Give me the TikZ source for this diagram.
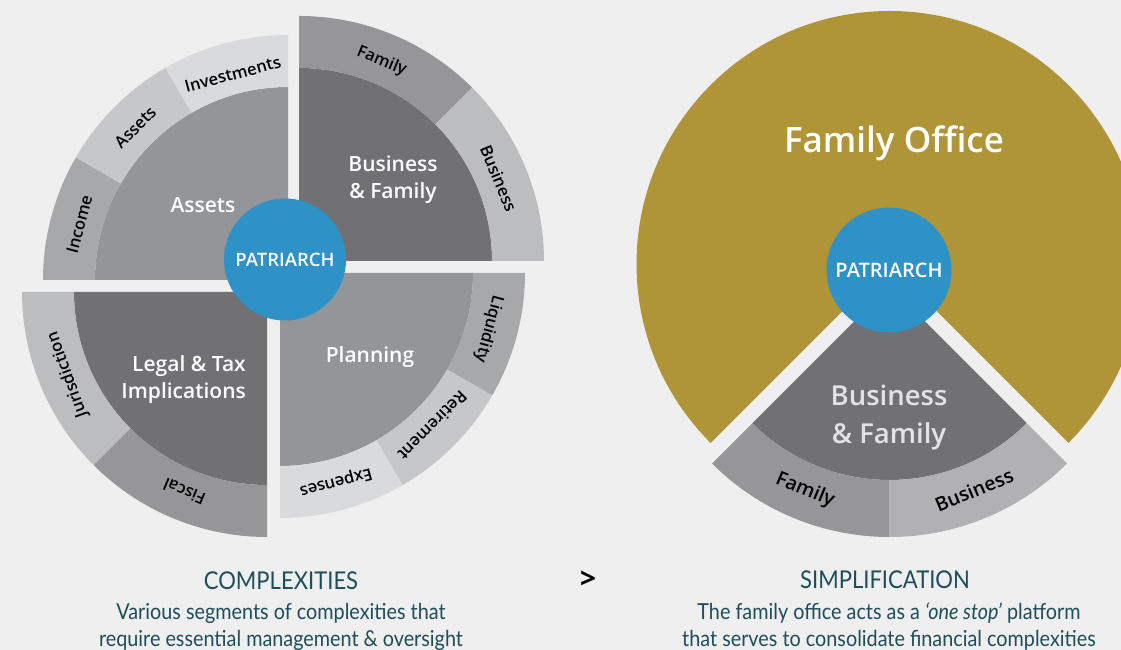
\documentclass[tikz,border=0pt]{standalone}
\usepackage{fontspec}
\usepackage{graphicx}
\usetikzlibrary{calc}
\setmainfont{Open Sans}
\IfFontExistsTF{Open Sans SemiBold}{\newfontfamily\sbfont{Open Sans SemiBold}}{%
  \IfFontExistsTF{Open Sans Semibold}{\newfontfamily\sbfont{Open Sans Semibold}}{\newcommand\sbfont{\bfseries}}}
\newfontfamily\capfont[FakeStretch=0.9]{Lato}
\definecolor{bgc}{HTML}{EFEFEF}
\definecolor{goldc}{HTML}{B09438}
\definecolor{bluec}{HTML}{2E92C7}
\definecolor{dkg}{HTML}{717073}
\definecolor{mdg}{HTML}{939598}
\definecolor{bandA}{HTML}{A7A8AA}
\definecolor{bandB}{HTML}{C6C7C9}
\definecolor{bandC}{HTML}{D9DADB}
\definecolor{bandD}{HTML}{969698}
\definecolor{bandE}{HTML}{BCBDBF}
\definecolor{bandF}{HTML}{B1B1B3}
\definecolor{tealc}{HTML}{1E4D5C}
\newcommand\ringseg[6]{%
  \fill[#6] ($(#1)+(#2:#4)$) arc[start angle=#2,end angle=#3,radius=#4]
     -- ($(#1)+(#3:#5)$) arc[start angle=#3,end angle=#2,radius=#5] -- cycle;}
\newcommand\piesec[5]{%
  \fill[#5] (#1) -- ($(#1)+(#2:#4)$) arc[start angle=#2,end angle=#3,radius=#4] -- cycle;}
\tikzset{
  inlbl/.style={text=white,font=\sbfont\fontsize{21}{27}\selectfont,align=center,inner sep=0pt},
  bandlbl/.style={text=black,font=\sbfont\fontsize{16.5}{20}\selectfont,inner sep=0pt},
  bandlblR/.style={text=black,font=\sbfont\fontsize{19.5}{23}\selectfont,inner sep=0pt},
  patri/.style={circle,fill=bluec,text=white,font=\sbfont\fontsize{18.5}{20}\selectfont,inner sep=0pt},
  captitle/.style={text=tealc,font=\capfont\fontsize{24.5}{26}\selectfont,inner sep=0pt},
  captext/.style={text=tealc,font=\capfont\fontsize{22}{24}\selectfont,inner sep=0pt}
}
\begin{document}
\begin{tikzpicture}[x=1pt,y=1pt]
\useasboundingbox (0,0) rectangle (1121,650);
\clip (0,0) rectangle (1121,650);
\fill[bgc] (0,0) rectangle (1121,650);
% ---------- left diagram ----------
\coordinate (TL) at (288,370);
\coordinate (TR) at (299,389);
\coordinate (BR) at (280,377);
\coordinate (BL) at (267,358);
% top-left: Assets
\piesec{TL}{90}{180}{193}{mdg}
\ringseg{TL}{150}{180}{193}{245}{bandA}
\ringseg{TL}{120}{150}{193}{245}{bandB}
\ringseg{TL}{90}{120}{193}{245}{bandC}
% top-right: Business & Family
\piesec{TR}{0}{90}{193}{dkg}
\ringseg{TR}{45}{90}{193}{245}{bandD}
\ringseg{TR}{0}{45}{193}{245}{bandE}
% bottom-right: Planning
\piesec{BR}{-90}{0}{193}{mdg}
\ringseg{BR}{-30}{0}{193}{245}{bandA}
\ringseg{BR}{-60}{-30}{193}{245}{bandB}
\ringseg{BR}{-90}{-60}{193}{245}{bandC}
% bottom-left: Legal & Tax
\piesec{BL}{180}{270}{193}{dkg}
\ringseg{BL}{180}{225}{193}{245}{bandE}
\ringseg{BL}{225}{270}{193}{245}{bandD}
% labels
\node[inlbl] (assets) at (203,445) {Assets};
\node[inlbl] (busfam) at (393,470) {Business\\\& Family};
\node[inlbl,align=right,anchor=east] (legal) at (246,270) {Legal \& Tax\\Implications};
\node[inlbl] (planning) at (370,293) {Planning};
\node[bandlbl,rotate=75] (income) at ($(TL)+(165:216)$) {Income};
\node[bandlbl,rotate=45] (assetsb) at ($(TL)+(135:216)$) {Assets};
\node[bandlbl,rotate=15] (invest) at ($(TL)+(105:213)$) {Investments};
\node[bandlbl,rotate=-22.5] (familyb) at ($(TR)+(67.5:216)$) {Family};
\node[bandlbl,rotate=-67.5] (businessb) at ($(TR)+(22.5:216)$) {Business};
\node[bandlbl,rotate=-105] (liquid) at ($(BR)+(-15:216)$) {Liquidity};
\node[bandlbl,rotate=-135] (retire) at ($(BR)+(-45:216)$) {Retirement};
\node[bandlbl,rotate=-165] (expense) at ($(BR)+(-75:216)$) {Expenses};
\node[bandlbl,rotate=110] (juris) at ($(BL)+(202.5:216)$) {Jurisdiction};
\node[bandlbl,rotate=157.5] (fiscal) at ($(BL)+(247.5:216)$) {Fiscal};
\node[patri,minimum size=122pt] (patL) at (285,390.5) {PATRIARCH};
% ---------- right diagram ----------
\coordinate (G) at (889.5,386);
\coordinate (W) at (889.5,364);
\piesec{G}{-45}{225}{253}{goldc}
\piesec{W}{225}{315}{194}{dkg}
\ringseg{W}{225}{270}{194}{251}{bandD}
\ringseg{W}{270}{315}{194}{251}{bandF}
\node[text=white,font=\sbfont\fontsize{35}{40}\selectfont,inner sep=0pt] (fo) at (894,507) {Family Office};
\node[text=bgc!95!black,font=\sbfont\fontsize{27.5}{38}\selectfont,align=center,inner sep=0pt] (bfR) at (889,232.5) {Business\\\& Family};
\node[bandlblR,rotate=-22.5] (famR) at ($(W)+(247.5:221)$) {Family};
\node[bandlblR,rotate=22.5] (busR) at ($(W)+(292.5:221)$) {Business};
\node[patri,minimum size=125pt,font=\sbfont\fontsize{20}{22}\selectfont] (patR) at (889,380) {PATRIARCH};
% ---------- captions ----------
\node[captitle] (cx) at (281,69) {COMPLEXITIES};
\node[captext] (cx1) at (281,37) {Various segments of complexities that};
\node[captext] (cx2) at (281,10) {require essential management \& oversight};
\node[text=black,font=\bfseries\fontsize{28}{30}\selectfont,inner sep=0pt] (gt) at (588,70) {>};
\node[captitle] (sx) at (885,70) {SIMPLIFICATION};
\node[captext] (sx1) at (889,37) {The family office acts as a \textit{‘one stop’} platform};
\node[captext] (sx2) at (889,10) {that serves to consolidate financial complexities};
\end{tikzpicture}
\end{document}
